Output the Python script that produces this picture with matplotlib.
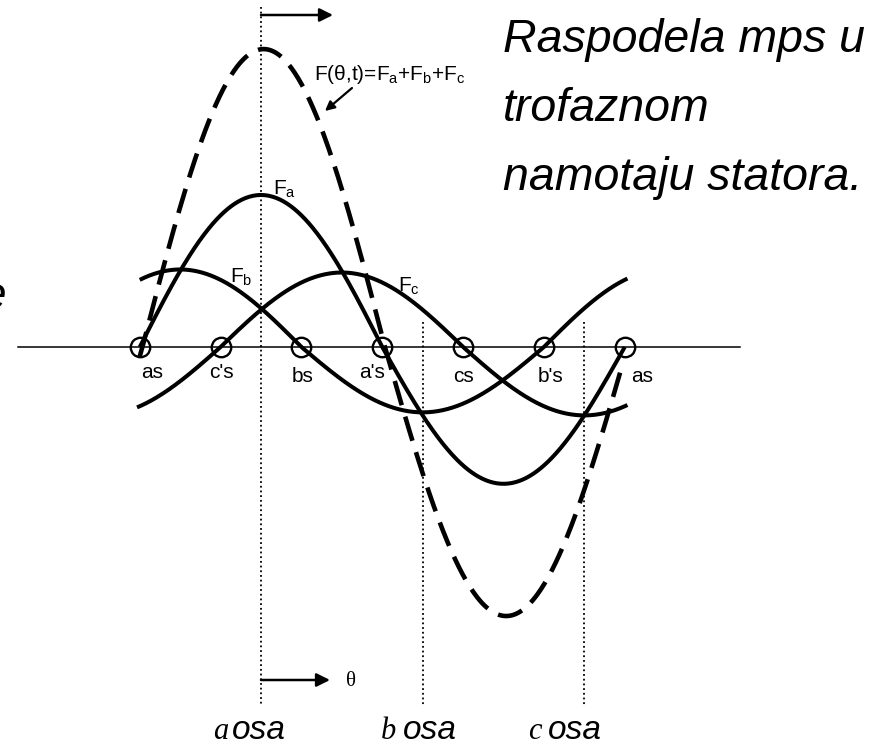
import numpy as np
import matplotlib
matplotlib.use("Agg")
import matplotlib.pyplot as plt

# stator slots (electrical degrees measured from the a axis)
slot_angles = [-90, -30, 30, 90, 150, 210, 270]
slot_names = ["as", "c's", "bs", "a's", "cs", "b's", "as"]

# phase mmf waves: angle of the positive peak, positive / negative peak height, drawn range
phase_names = ["a", "b", "c"]
phase_peak = [0, -60, 60]
phase_amp_pos = [1.00, 0.51, 0.49]
phase_amp_neg = [0.90, 0.43, 0.45]
phase_start = [-90, -90, -92]
phase_end = [270, 272, 272]

# resulting mmf F(theta, t) = Fa + Fb + Fc as drawn
total_peak = 2
total_amp_pos = 1.96
total_amp_neg = 1.77
total_start = -90
total_end = 268

# magnetic axes of the three phases
axis_names = ["a", "b", "c"]
axis_angles = [0, 120, 240]

caption_lines = ["Raspodela mps u", "trofaznom", "namotaju statora."]

W, H = 896, 747
X0, SX = 261, 485 / 360     # pixel of theta = 0, pixels per degree
Y0, SY = 347, 152           # pixel of zero line, pixels per unit


def wave(start, end, peak, a_pos, a_neg):
    th = np.linspace(start, end, 400)
    c = np.cos(np.radians(th - peak))
    return th, np.where(c > 0, a_pos * c, a_neg * c)


def fx(px):
    return px / W


def fy(py):
    return 1 - py / H


plt.rcParams["font.family"] = ["Liberation Sans", "DejaVu Sans"]
plt.rcParams["mathtext.fontset"] = "custom"
plt.rcParams["mathtext.rm"] = "Liberation Sans"
plt.rcParams["mathtext.it"] = "Liberation Sans:italic"

fig = plt.figure(figsize=(W / 100, H / 100), dpi=100)
ax = fig.add_axes([0, 0, 1, 1])
ax.set_xlim((0 - X0) / SX, (W - X0) / SX)
ax.set_ylim(-(H - Y0) / SY, Y0 / SY)
ax.axis("off")

# zero line
ax.plot([(18 - X0) / SX, (740 - X0) / SX], [0, 0], color="k", lw=1.1)

# phase axes (dotted)
for name, ang in zip(axis_names, axis_angles):
    top = (Y0 - 7) / SY if name == "a" else (Y0 - 322) / SY
    ax.plot([ang, ang], [top, (Y0 - 706) / SY], color="k", lw=1.3,
            linestyle=(0, (1, 1.6)))

# phase waves
for i in range(3):
    th, f = wave(phase_start[i], phase_end[i], phase_peak[i],
                 phase_amp_pos[i], phase_amp_neg[i])
    ax.plot(th, f, color="k", lw=2.9, solid_capstyle="butt")

# resultant wave (dashed)
th, f = wave(total_start, total_end, total_peak, total_amp_pos, total_amp_neg)
ax.plot(th, f, color="k", lw=3.3, dashes=(5.5, 2.6), dash_capstyle="butt")

# slots
ax.plot(slot_angles, [0] * len(slot_angles), "o", ms=14, mfc="none",
        mec="k", mew=1.7)
label_dx = [12, 1, 1, -10, 0, 7, 17]
label_dy = [25, 26, 29, 26, 30, 30, 29]
for ang, name, dx, dy in zip(slot_angles, slot_names, label_dx, label_dy):
    ax.text(ang + dx / SX, -dy / SY, name, ha="center", va="center",
            fontsize=15)

# wave labels
ax.text(fx(273), fy(189), r"F$_\mathrm{a}$", transform=fig.transFigure,
        fontsize=15, va="center")
ax.text(fx(230), fy(277), r"F$_\mathrm{b}$", transform=fig.transFigure,
        fontsize=15, va="center")
ax.text(fx(398), fy(286), r"F$_\mathrm{c}$", transform=fig.transFigure,
        fontsize=15, va="center")
ax.text(fx(314), fy(75),
        r"F(θ,t)=F$_\mathrm{a}$+F$_\mathrm{b}$+F$_\mathrm{c}$",
        transform=fig.transFigure, fontsize=15, va="center")
ax.annotate("", xy=(fx(325), fy(111)), xytext=(fx(352), fy(88)),
            xycoords="figure fraction", textcoords="figure fraction",
            arrowprops=dict(arrowstyle="-|>", color="k", lw=1.6,
                            mutation_scale=14, shrinkA=0, shrinkB=0))

# direction arrows
ax.annotate("", xy=(fx(333), fy(15)), xytext=(fx(261), fy(15)),
            xycoords="figure fraction", textcoords="figure fraction",
            arrowprops=dict(arrowstyle="-|>", color="k", lw=1.8,
                            mutation_scale=20, shrinkA=0, shrinkB=0))
ax.annotate("", xy=(fx(330), fy(680)), xytext=(fx(261), fy(680)),
            xycoords="figure fraction", textcoords="figure fraction",
            arrowprops=dict(arrowstyle="-|>", color="k", lw=1.8,
                            mutation_scale=20, shrinkA=0, shrinkB=0))
ax.text(fx(346), fy(682), "θ", transform=fig.transFigure, fontsize=15,
        va="center", family="Liberation Serif")

# axis names at the bottom
letter_right = [228, 396, 542]
osa_left = [232, 403, 548]
for name, xr, xl in zip(axis_names, letter_right, osa_left):
    ax.text(fx(xr), fy(739), name, transform=fig.transFigure,
            ha="right", va="baseline", fontsize=22, style="italic",
            family="Liberation Serif")
    ax.text(fx(xl), fy(739), "osa", transform=fig.transFigure,
            ha="left", va="baseline", fontsize=24, style="italic")

# caption
for line, base in zip(caption_lines, [52, 121, 190]):
    ax.text(fx(503), fy(base), line, transform=fig.transFigure, ha="left",
            va="baseline", fontsize=33.5, style="italic")
ax.text(fx(-20), fy(309), "e", transform=fig.transFigure, ha="left",
        va="baseline", fontsize=33, style="italic")

fig.savefig("out.png", dpi=100)
